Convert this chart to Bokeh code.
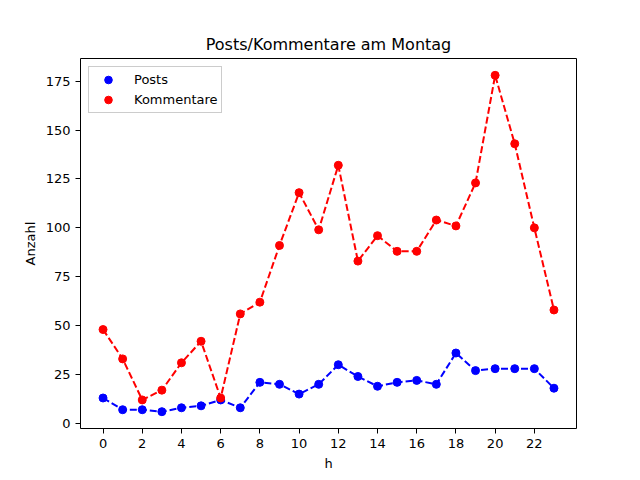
from bokeh.plotting import figure
from bokeh.embed import file_html
from bokeh.resources import INLINE
from bokeh.models import Range1d, FixedTicker, Legend, LegendItem

hours = list(range(24))
posts = [13, 7, 7, 6, 8, 9, 12, 8, 21, 20, 15, 20, 30, 24, 19, 21, 22, 20, 36, 27, 28, 28, 28, 18]
kommentare = [48, 33, 12, 17, 31, 42, 13, 56, 62, 91, 118, 99, 132, 83, 96, 88, 88, 104, 101, 123, 178, 143, 100, 58]
x_ticks = list(range(0, 24, 2))
y_ticks = [0, 25, 50, 75, 100, 125, 150, 175]

FONT = "DejaVu Sans"

p = figure(output_backend="svg", toolbar_location=None,
           frame_width=496, frame_height=370,
           min_border_left=80, min_border_right=48, min_border_top=58, min_border_bottom=36,
           x_range=Range1d(-1.15, 24.15), y_range=Range1d(-2.6, 186.6),
           title="Posts/Kommentare am Montag")

p.title.align = "center"
p.title.text_font = FONT
p.title.text_font_size = "16px"
p.title.text_font_style = "normal"
p.title.text_color = "black"

p.outline_line_color = "black"
p.outline_line_width = 1
p.xgrid.visible = False
p.ygrid.visible = False

for ax in (p.xaxis[0], p.yaxis[0]):
    ax.axis_line_color = None
    ax.major_tick_in = 0
    ax.major_tick_out = 5
    ax.minor_tick_line_color = None
    ax.major_label_text_font = FONT
    ax.major_label_text_font_size = "13px"
    ax.major_label_text_color = "black"
    ax.axis_label_text_font = FONT
    ax.axis_label_text_font_size = "13px"
    ax.axis_label_text_font_style = "normal"
    ax.axis_label_text_color = "black"

p.xaxis.ticker = FixedTicker(ticks=x_ticks)
p.yaxis.ticker = FixedTicker(ticks=y_ticks)
p.xaxis.axis_label = "h"
p.yaxis.axis_label = "Anzahl"

p.line(hours, posts, line_color="#0000ff", line_width=2, line_dash="7 3")
sp = p.scatter(hours, posts, size=8, fill_color="#0000ff", line_color="#0000ff")
p.line(hours, kommentare, line_color="#ff0000", line_width=2, line_dash="7 3")
sk = p.scatter(hours, kommentare, size=8, fill_color="#ff0000", line_color="#ff0000")

legend = Legend(items=[LegendItem(label="Posts", renderers=[sp]),
                       LegendItem(label="Kommentare", renderers=[sk])],
                location="top_left")
legend.label_text_font = FONT
legend.label_text_font_size = "13px"
legend.label_text_color = "black"
legend.border_line_color = "#cccccc"
legend.border_line_alpha = 1
legend.background_fill_alpha = 0.8
legend.margin = 8
legend.padding = 3
legend.spacing = 1
legend.glyph_width = 32
legend.glyph_height = 19
legend.label_standoff = 10
legend.label_height = 19
p.add_layout(legend)

open("out.html", "w").write(file_html(p, INLINE))
